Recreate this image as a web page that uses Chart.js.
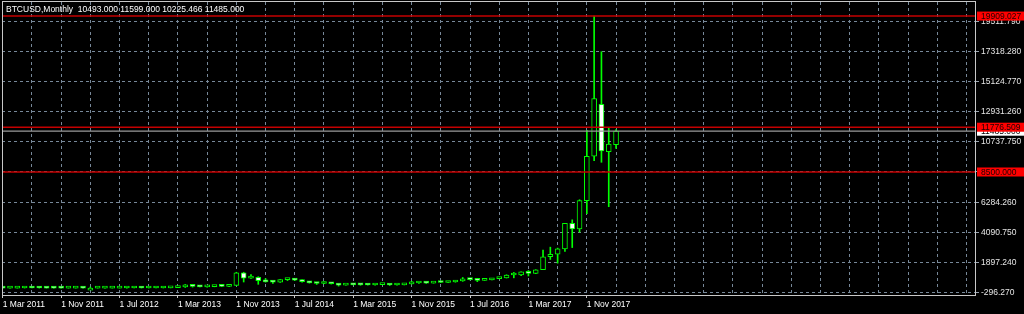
<!DOCTYPE html>
<html><head><meta charset="utf-8">
<script src="https://cdn.jsdelivr.net/npm/chart.js@4.4.1/dist/chart.umd.min.js"></script>
<style>html,body{margin:0;padding:0;background:#000;overflow:hidden}canvas{display:block}</style>
</head><body>
<canvas id="c" width="1024" height="314"></canvas>
<script>
// ---- categories: one monthly bar each, Mar 2011 .. Mar 2018 ----
const months = [
 '2011-03','2011-04','2011-05','2011-06','2011-07','2011-08','2011-09','2011-10','2011-11','2011-12',
 '2012-01','2012-02','2012-03','2012-04','2012-05','2012-06','2012-07','2012-08','2012-09','2012-10','2012-11','2012-12',
 '2013-01','2013-02','2013-03','2013-04','2013-05','2013-06','2013-07','2013-08','2013-09','2013-10','2013-11','2013-12',
 '2014-01','2014-02','2014-03','2014-04','2014-05','2014-06','2014-07','2014-08','2014-09','2014-10','2014-11','2014-12',
 '2015-01','2015-02','2015-03','2015-04','2015-05','2015-06','2015-07','2015-08','2015-09','2015-10','2015-11','2015-12',
 '2016-01','2016-02','2016-03','2016-04','2016-05','2016-06','2016-07','2016-08','2016-09','2016-10','2016-11','2016-12',
 '2017-01','2017-02','2017-03','2017-04','2017-05','2017-06','2017-07','2017-08','2017-09','2017-10','2017-11','2017-12',
 '2018-01','2018-02','2018-03'
];
const opens = [
 0.86,0.78,3.5,8.7,16.1,13.4,8.2,5.1,3.3,3.0,
 4.7,5.5,4.9,4.9,5.0,5.2,6.7,9.4,10.2,12.4,11.2,12.6,
 13.5,20.4,33.4,93.0,139.2,128.8,97.5,106.2,135.3,133.0,198.0,1120.0,
 732,800,550,455,445,627,640,585,480,387,338,378,
 320,218,254,244,236,230,263,284,230,236,314,377,
 430,369,437,416,448,531,673,624,574,609,700,744,
 964,968,1190,1080,1348,2300,2480,2870,4735,4340,6400,9650,
 13450,9990,10493.000
];
const highs = [
 0.95,3.5,8.9,31.9,16.5,13.5,8.9,5.2,3.6,4.8,
 7.4,6.2,5.4,5.3,5.2,6.7,9.7,15.4,12.9,12.8,12.6,13.9,
 20.9,33.4,95.0,266.0,139.9,129.9,111.0,135.0,142.0,220.0,1163.0,1163.0,
 1000,835,700,540,630,680,660,600,490,415,460,385,
 320,266,300,259,247,268,318,285,244,330,502,467,
 462,447,440,467,550,780,703,626,628,720,752,980,
 1150,1200,1290,1350,2780,3000,2930,4740,5000,6470,11550,19909,
 17300,11740,11599.000
];
const lows = [
 0.67,0.56,2.9,8.7,12.9,6.5,4.2,2.2,2.0,2.7,
 4.5,4.2,4.6,4.7,4.9,5.2,6.5,7.1,10.0,9.8,10.0,12.5,
 13.2,19.1,33.0,50.0,79.0,87.0,65.5,99.0,116.0,102.0,196.0,450.0,
 720,280,440,340,420,555,565,440,370,275,320,300,
 152,210,240,214,225,218,252,198,224,236,300,350,
 350,367,400,415,436,500,605,477,572,608,690,740,
 755,920,890,1060,1348,2100,1830,2680,2970,4100,5450,9330,
 9210,5960,10225.466
];
const closes = [
 0.78,3.5,8.7,16.1,13.4,8.2,5.1,3.3,3.0,4.7,
 5.5,4.9,4.9,5.0,5.2,6.7,9.4,10.2,12.4,11.2,12.6,13.5,
 20.4,33.4,93.0,139.2,128.8,97.5,106.2,135.3,133.0,198.0,1120.0,732.0,
 800,550,455,445,627,640,585,480,387,338,378,320,
 218,254,244,236,230,263,284,230,236,314,377,430,
 369,437,416,448,531,673,624,574,609,700,744,964,
 968,1190,1080,1348,2300,2480,2870,4735,4340,6400,9650,13880,
 10040,10550,11485.000
];
// ---- axis tick labels ----
const xTickIndex  = [0,8,16,24,32,40,48,56,64,72,80];
const xTickLabels = ['1 Mar 2011','1 Nov 2011','1 Jul 2012','1 Mar 2013','1 Nov 2013','1 Jul 2014','1 Mar 2015','1 Nov 2015','1 Jul 2016','1 Mar 2017','1 Nov 2017'];
const yTickValues = [-296.27,1897.24,4090.75,6284.26,8511.00,10737.75,12931.26,15124.77,17318.28,19511.79];
const yTickLabels = ['-296.270','1897.240','4090.750','6284.260','','10737.750','12931.260','15124.770','17318.280','19511.790'];
// ---- horizontal levels ----
const levelPrices = [19909.027, 11776.509, 8500.000];
const bidPrice = 11485.000;
const symbolName = 'BTCUSD', periodName = 'Monthly';

const FONT = '"Liberation Sans", Arial, sans-serif';
const last = opens.length - 1;

const bodyData = months.map((m,i)=>({x:i, y:[opens[i], closes[i]]}));
const wickData = months.map((m,i)=>({x:i, y:[lows[i], highs[i]]}));
const bodyFill = months.map((m,i)=> closes[i] >= opens[i] ? '#000000' : '#ffffff');

const chartPlugin = {
  id:'mt4',
  beforeDraw(chart){
    const c = chart.ctx; c.save(); c.fillStyle='#000'; c.fillRect(0,0,chart.width,chart.height); c.restore();
  },
  afterDatasetsDraw(chart){
    const {ctx, chartArea:a, scales:{y}} = chart;
    ctx.save();
    let p = y.getPixelForValue(bidPrice);
    ctx.strokeStyle = '#9a9a9a'; ctx.lineWidth = 1.3;
    ctx.beginPath(); ctx.moveTo(a.left, p); ctx.lineTo(a.right, p); ctx.stroke();
    ctx.strokeStyle = '#c40000'; ctx.lineWidth = 1.5;
    levelPrices.forEach(v=>{
      const q = y.getPixelForValue(v);
      ctx.beginPath(); ctx.moveTo(a.left, q); ctx.lineTo(a.right, q); ctx.stroke();
    });
    ctx.restore();
  },
  afterDraw(chart){
    const {ctx, chartArea:a, scales:{y}} = chart;
    ctx.save();
    // frame
    ctx.strokeStyle = '#c8c8c8'; ctx.lineWidth = 1;
    ctx.strokeRect(a.left+0.5, a.top-0.5, a.right-a.left-1, a.bottom-a.top+1);
    // price labels
    ctx.font = '8.5px ' + FONT; ctx.textBaseline = 'middle'; ctx.textAlign = 'left';
    const lx = a.right + 1, lw = chart.width - lx, lh = 9;
    let p = y.getPixelForValue(bidPrice);
    ctx.fillStyle = '#ffffff'; ctx.fillRect(lx, p - lh/2, lw, lh);
    ctx.fillStyle = '#000'; ctx.fillText(bidPrice.toFixed(3), lx + 4, p + 0.5);
    levelPrices.forEach(v=>{
      const q = y.getPixelForValue(v);
      ctx.fillStyle = '#ff0000'; ctx.fillRect(lx, q - lh/2, lw, lh);
      ctx.fillStyle = '#200000'; ctx.fillText(v.toFixed(3), lx + 4, q + 0.5);
    });
    // title
    ctx.fillStyle = '#ffffff'; ctx.textBaseline = 'alphabetic';
    ctx.fillText(symbolName + ',' + periodName + '  ' + opens[last].toFixed(3) + ' ' + highs[last].toFixed(3) + ' ' + lows[last].toFixed(3) + ' ' + closes[last].toFixed(3), 6, 12);
    ctx.restore();
  }
};

new Chart(document.getElementById('c'), {
  type: 'bar',
  data: {
    datasets: [
      { data: bodyData, order: 0, grouped: false, barThickness: 5, borderWidth: 1, borderColor: '#00ff00',
        backgroundColor: bodyFill, borderSkipped: false, minBarLength: 2 },
      { data: wickData, order: 1, grouped: false, barThickness: 1, borderWidth: 0,
        backgroundColor: '#00ff00', minBarLength: 1 }
    ]
  },
  options: {
    responsive: false, animation: false, devicePixelRatio: 1,
    layout: { padding: { left: 2, top: 2, right: 0, bottom: 0 } },
    plugins: { legend: { display: false }, tooltip: { enabled: false }, title: { display: false } },
    scales: {
      x: {
        type: 'linear', min: -0.1, max: 133.3, offset: false,
        afterBuildTicks: s => { const t = []; for (let v = 0; v <= 132; v += 4) t.push({value: v}); s.ticks = t; },
        afterFit: s => { s.height = 19; s.paddingLeft = 0; s.paddingRight = 0; },
        ticks: {
          autoSkip: false, maxRotation: 0, minRotation: 0, align: 'start', padding: 2,
          color: '#ffffff', font: { family: FONT, size: 8.5 },
          callback: v => { const k = xTickIndex.indexOf(v); return k >= 0 ? xTickLabels[k] : ''; }
        },
        grid: { offset: false, color: '#778899', lineWidth: 1, tickLength: 3, tickWidth: 1,
          tickColor: c => (c.tick && xTickIndex.indexOf(c.tick.value) >= 0) ? '#c8c8c8' : 'rgba(0,0,0,0)' },
        border: { display: false, dash: [3, 3] }
      },
      y: {
        position: 'right', min: -501, max: 20939,
        afterBuildTicks: s => { s.ticks = yTickValues.map(v => ({value: v})); },
        afterFit: s => { s.width = 48; s.paddingTop = 0; s.paddingBottom = 0; },
        ticks: {
          autoSkip: false, padding: 2, color: '#e6e6e6', font: { family: FONT, size: 8.5 },
          callback: (v, i) => yTickLabels[i]
        },
        grid: { color: '#778899', lineWidth: 1, tickLength: 3, tickWidth: 1, tickColor: '#9aa4b0' },
        border: { display: false, dash: [3, 3] }
      }
    }
  },
  plugins: [chartPlugin]
});
</script>
</body></html>
